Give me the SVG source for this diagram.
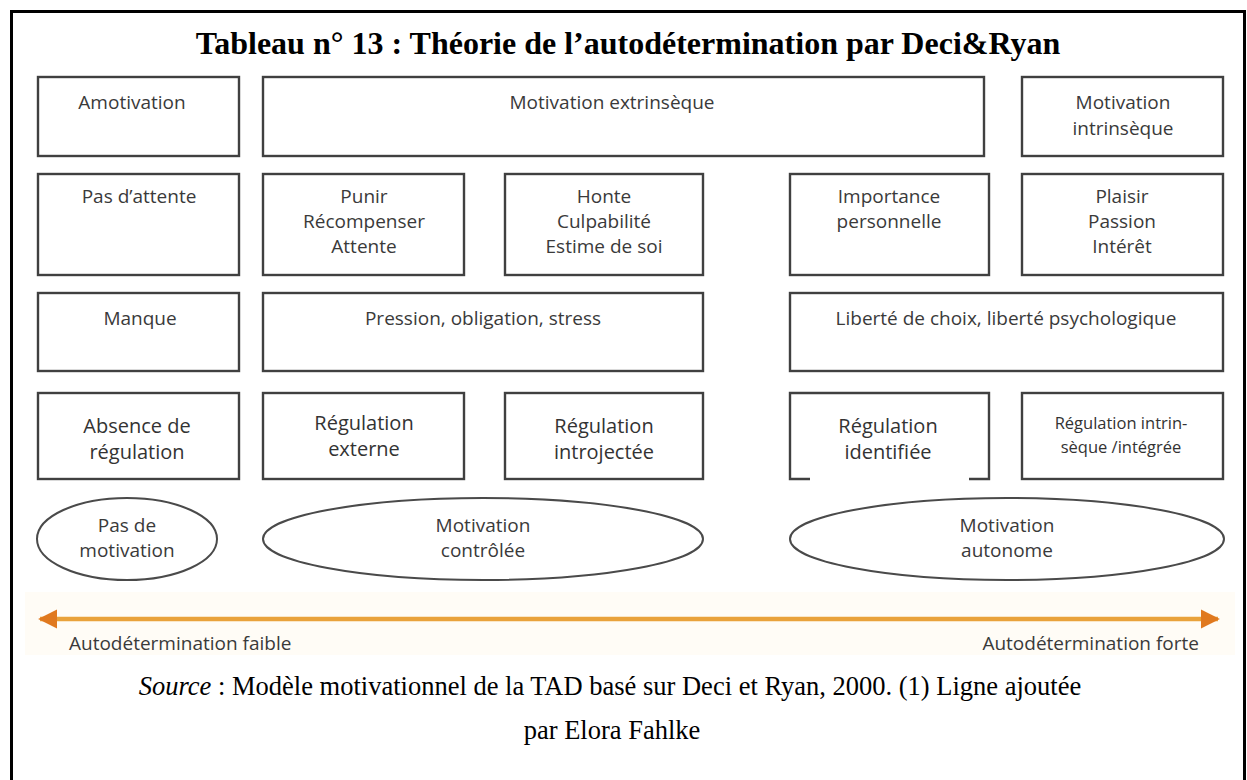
<svg xmlns="http://www.w3.org/2000/svg" width="1247" height="780" viewBox="0 0 1247 780">
<style>
.box{fill:#fff;stroke:#404040;stroke-width:2.4}
.ell{fill:#fff;stroke:#4a4a4a;stroke-width:2}
.t{font-family:"Open Sans","Noto Sans",sans-serif;font-size:19px;fill:#3a3a3a;text-anchor:middle}
.t4{font-family:"Open Sans","Noto Sans",sans-serif;font-size:20px;fill:#333;text-anchor:middle}
.ts{font-family:"Open Sans","Noto Sans",sans-serif;font-size:16.5px;fill:#333;text-anchor:middle}
.ax{font-family:"Open Sans","Noto Sans",sans-serif;font-size:19px;fill:#3a3a3a}
.serif{font-family:"Liberation Serif","Times New Roman",serif;fill:#000}
</style>
<defs>
<marker id="ah" viewBox="0 0 10 10" refX="9" refY="5" markerWidth="4.2" markerHeight="4.8" orient="auto-start-reverse" markerUnits="strokeWidth">
<path d="M0,0 L10,5 L0,10 Z" fill="#E0791F"/>
</marker>
</defs>
<rect width="1247" height="780" fill="#fff"/>
<g id="frame">
<path d="M11.5,780 V11.5 H1244.5 V780" fill="none" stroke="#000" stroke-width="3"/>
</g>
<text id="title" class="serif" x="628" y="54" font-size="32" font-weight="bold" text-anchor="middle">Tableau n° 13 : Théorie de l’autodétermination par Deci&amp;Ryan</text>

<g id="row1">
<g id="n-amotivation"><rect class="box" x="38" y="77" width="201" height="79"/><text class="t" x="132" y="109">Amotivation</text></g>
<g id="n-extrinseque"><rect class="box" x="263" y="77" width="721" height="79"/><text class="t" x="612" y="109">Motivation extrinsèque</text></g>
<g id="n-intrinseque"><rect class="box" x="1022" y="77" width="201" height="79"/><text class="t" x="1123" y="109">Motivation</text><text class="t" x="1123" y="135">intrinsèque</text></g>
</g>

<g id="row2">
<g id="n-pasattente"><rect class="box" x="38" y="174" width="201" height="101"/><text class="t" x="139" y="203">Pas d’attente</text></g>
<g id="n-punir"><rect class="box" x="263" y="174" width="201" height="101"/><text class="t" x="364" y="203">Punir</text><text class="t" x="364" y="228">Récompenser</text><text class="t" x="364" y="253">Attente</text></g>
<g id="n-honte"><rect class="box" x="505" y="174" width="198" height="101"/><text class="t" x="604" y="203">Honte</text><text class="t" x="604" y="228">Culpabilité</text><text class="t" x="604" y="253">Estime de soi</text></g>
<g id="n-importance"><rect class="box" x="790" y="174" width="199" height="101"/><text class="t" x="889" y="203">Importance</text><text class="t" x="889" y="228">personnelle</text></g>
<g id="n-plaisir"><rect class="box" x="1022" y="174" width="201" height="101"/><text class="t" x="1122" y="203">Plaisir</text><text class="t" x="1122" y="228">Passion</text><text class="t" x="1122" y="253">Intérêt</text></g>
</g>

<g id="row3">
<g id="n-manque"><rect class="box" x="38" y="293" width="201" height="78"/><text class="t" x="140" y="325">Manque</text></g>
<g id="n-pression"><rect class="box" x="263" y="293" width="440" height="78"/><text class="t" x="483" y="325">Pression, obligation, stress</text></g>
<g id="n-liberte"><rect class="box" x="790" y="293" width="433" height="78"/><text class="t" x="1006" y="325">Liberté de choix, liberté psychologique</text></g>
</g>

<g id="row4">
<g id="n-absence"><rect class="box" x="38" y="393" width="201" height="86"/><text class="t4" x="137" y="433">Absence de</text><text class="t4" x="137" y="459">régulation</text></g>
<g id="n-externe"><rect class="box" x="263" y="393" width="201" height="86"/><text class="t4" x="364" y="430">Régulation</text><text class="t4" x="364" y="456">externe</text></g>
<g id="n-introjectee"><rect class="box" x="505" y="393" width="198" height="86"/><text class="t4" x="604" y="433">Régulation</text><text class="t4" x="604" y="459">introjectée</text></g>
<g id="n-identifiee"><path class="box" d="M810,479 H790 V393 H989 V479 H969"/><text class="t4" x="888" y="433">Régulation</text><text class="t4" x="888" y="459">identifiée</text></g>
<g id="n-integree"><rect class="box" x="1022" y="393" width="201" height="86"/><text class="ts" x="1121" y="429">Régulation intrin-</text><text class="ts" x="1121" y="453">sèque /intégrée</text></g>
</g>

<g id="row5">
<g id="n-pasmotivation"><ellipse class="ell" cx="127" cy="539" rx="90" ry="41"/><text class="t" x="127" y="532">Pas de</text><text class="t" x="127" y="557">motivation</text></g>
<g id="n-controlee"><ellipse class="ell" cx="483" cy="539" rx="220" ry="41"/><text class="t" x="483" y="532">Motivation</text><text class="t" x="483" y="557">contrôlée</text></g>
<g id="n-autonome"><ellipse class="ell" cx="1007" cy="539" rx="217" ry="41"/><text class="t" x="1007" y="532">Motivation</text><text class="t" x="1007" y="557">autonome</text></g>
</g>

<g id="connectors">
<rect x="25" y="592" width="1210" height="63" fill="#FFFCF6"/>
<line x1="40" y1="619" x2="1218" y2="619" stroke="#E9A23B" stroke-width="4.5" marker-start="url(#ah)" marker-end="url(#ah)"/>
<text class="ax" x="69" y="650">Autodétermination faible</text>
<text class="ax" x="1199" y="650" text-anchor="end">Autodétermination forte</text>
</g>

<g id="source">
<text class="serif" x="610" y="695" font-size="26.5" text-anchor="middle"><tspan font-style="italic">Source</tspan> : Modèle motivationnel de la TAD basé sur Deci et Ryan, 2000. (1) Ligne ajoutée</text>
<text class="serif" x="612" y="739" font-size="26.5" text-anchor="middle">par Elora Fahlke</text>
</g>
</svg>
